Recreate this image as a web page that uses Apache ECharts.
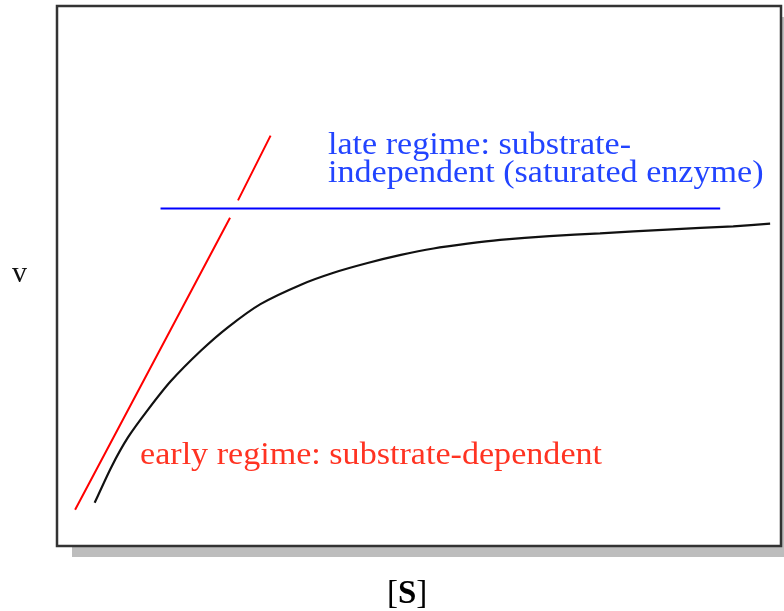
<!DOCTYPE html>
<html>
<head>
    <meta charset="UTF-8">
    <title>v vs [S]</title>
    <script src="https://cdn.jsdelivr.net/npm/echarts@6/dist/echarts.min.js"></script>
    <style>
        html, body {margin: 0; padding: 0; background: #fff;}
        #main {width: 784px; height: 611px;}
    </style>
</head>
<body>
<div id="main"></div>
<script type="text/javascript">
    // [S] and v in arbitrary units (0..100 across the box)
    var curveData = [
        [5.2, 8.0], [7.5, 14.6], [9.8, 20.1], [12.6, 25.3], [15.7, 30.5],
        [19.9, 36.2], [23.6, 40.5], [28.1, 44.8], [33.7, 48.4], [38.2, 50.6],
        [42.9, 52.4], [47.5, 53.9], [52.0, 55.1], [56.7, 56.0], [61.2, 56.7],
        [68.0, 57.4], [75.0, 57.9], [84.3, 58.6], [93.4, 59.2], [98.5, 59.7]
    ];
    // early tangent, broken where it crosses the plateau line
    var redLine = [[2.5, 6.7], [23.9, 60.8], '-', [25.0, 64.0], [29.5, 76.0]];
    var blueLine = [[14.3, 62.5], [91.6, 62.5]];

    var lateText = ['late regime: substrate-', 'independent (saturated enzyme)'];
    var earlyText = 'early regime: substrate-dependent';
    var yName = 'v';
    var xName = '[S]';

    var serif = '"Liberation Serif", "DejaVu Serif", serif';

    var myChart = echarts.init(document.getElementById('main'));
    myChart.setOption({
        animation: false,
        grid: {
            left: 57, top: 6, width: 724, height: 540,
            show: true,
            backgroundColor: '#fff',
            borderColor: '#333',
            borderWidth: 2.5,
            z: 1
        },
        xAxis: {
            type: 'value', min: 0, max: 100,
            axisLine: {show: false}, axisTick: {show: false},
            axisLabel: {show: false}, splitLine: {show: false}
        },
        yAxis: {
            type: 'value', min: 0, max: 100,
            axisLine: {show: false}, axisTick: {show: false},
            axisLabel: {show: false}, splitLine: {show: false}
        },
        series: [{
            type: 'line',
            data: blueLine,
            showSymbol: false,
            lineStyle: {color: '#0000ff', width: 2}
        }, {
            type: 'line',
            data: redLine,
            showSymbol: false,
            connectNulls: false,
            lineStyle: {color: '#ff0000', width: 2}
        }, {
            type: 'line',
            data: curveData,
            smooth: 0.2,
            showSymbol: false,
            lineStyle: {color: '#111', width: 2.2}
        }],
        graphic: [{
            // drop shadow of the frame
            type: 'rect', z: -10, silent: true,
            shape: {x: 72, y: 17, width: 724, height: 540},
            style: {fill: '#bdbdbd'}
        }, {
            type: 'text', x: 328, y: 146, scaleX: 1.1, z: 10,
            style: {text: lateText[0], font: '31px ' + serif, fill: '#2244ff', textVerticalAlign: 'middle'}
        }, {
            type: 'text', x: 328, y: 174, scaleX: 1.1, z: 10,
            style: {text: lateText[1], font: '31px ' + serif, fill: '#2244ff', textVerticalAlign: 'middle'}
        }, {
            type: 'text', x: 140, y: 456, scaleX: 1.1, z: 10,
            style: {text: earlyText, font: '31px ' + serif, fill: '#ff3322', textVerticalAlign: 'middle'}
        }, {
            type: 'text', x: 12, y: 274,
            style: {text: yName, font: '30px ' + serif, fill: '#111', textVerticalAlign: 'middle'}
        }, {
            type: 'text', x: 387, y: 594,
            style: {
                text: '{b|[}{s|S}{b|]}',
                textVerticalAlign: 'middle',
                rich: {
                    b: {fontFamily: serif, fontSize: 33, color: '#111'},
                    s: {fontFamily: serif, fontSize: 33, fontWeight: 'bold', color: '#111'}
                }
            }
        }]
    });
</script>
</body>
</html>
